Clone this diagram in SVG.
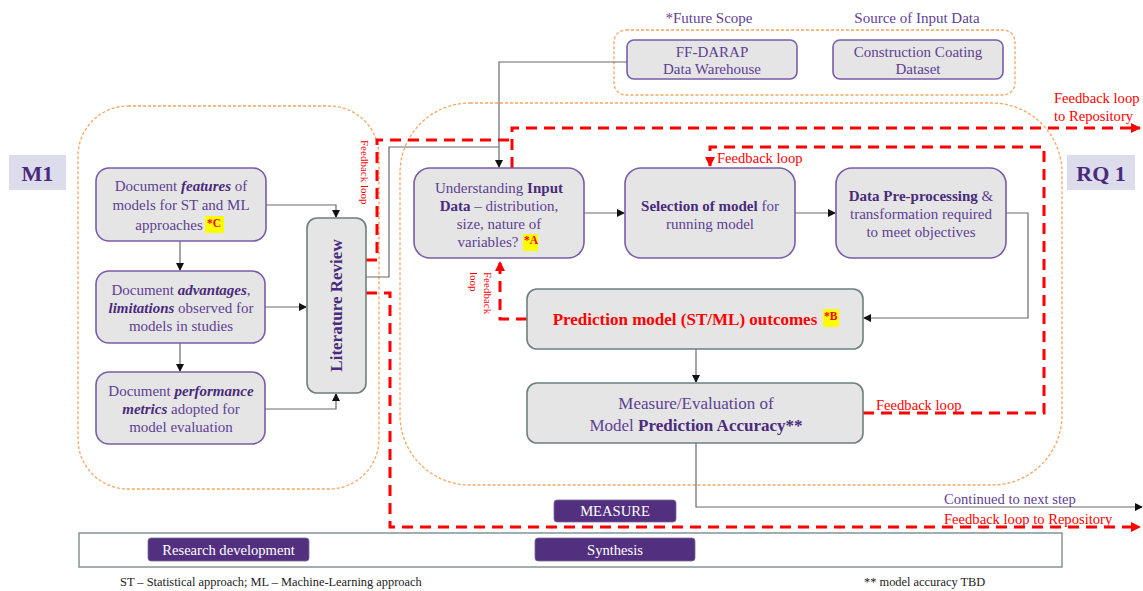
<svg xmlns="http://www.w3.org/2000/svg" width="1143" height="591" viewBox="0 0 1143 591">
  <style>
    text { font-family: "Liberation Serif", "Times New Roman", serif; }
    .zone { fill: none; stroke: #f5a561; stroke-width: 1.3; stroke-dasharray: 3 2; }
    .box { fill: #e5e5e5; stroke: #7a5ca8; stroke-width: 1.6; }
    .gbox { fill: #e5e5e5; stroke: #6e7f7f; stroke-width: 1.6; }
    .t { font-size: 15px; fill: #5f3f94; text-anchor: middle; }
    .b { font-weight: bold; fill: #4a2a7c; }
    .bi { font-weight: bold; font-style: italic; fill: #4a2a7c; }
    .tag { font-size: 11.5px; font-weight: bold; fill: #ff0000; }
    .hl { fill: #ffff00; }
    .lbl { fill: #dcdcec; }
    .lblt { font-size: 22px; font-weight: bold; fill: #4a2a7c; text-anchor: middle; }
    .pill { fill: #52307f; stroke: #7a6a9a; stroke-width: 0.8; }
    .pillt { font-size: 14.6px; fill: #ffffff; text-anchor: middle; }
    .wire { fill: none; stroke: #6a6a6a; stroke-width: 1.2; }
    .fb { fill: none; stroke: #ff0000; stroke-width: 3; stroke-dasharray: 11 7; }
    .fbt { font-size: 14.6px; fill: #ff0000; }
    .note { font-size: 12.4px; fill: #222222; }
  </style>
  <defs>
    <marker id="ah" markerWidth="8" markerHeight="8" refX="7" refY="4" orient="auto" markerUnits="userSpaceOnUse">
      <path d="M0,0 L8,4 L0,8 Z" fill="#111111"/>
    </marker>
    <marker id="rh" markerWidth="10" markerHeight="10" refX="9" refY="5" orient="auto" markerUnits="userSpaceOnUse">
      <path d="M0,0 L10,5 L0,10 Z" fill="#ff0000"/>
    </marker>
  </defs>

  <rect width="1143" height="591" fill="#ffffff"/>

  <!-- grouping zones -->
  <g id="zones">
    <rect class="zone" x="78" y="106" width="301" height="383" rx="50"/>
    <rect class="zone" x="400" y="103" width="662" height="382" rx="70"/>
    <rect class="zone" x="614" y="30" width="401" height="65" rx="12"/>
    <text x="709" y="23" class="t">*Future Scope</text>
    <text x="917" y="23" class="t">Source of Input Data</text>
  </g>

  <!-- section labels -->
  <g id="label-m1">
    <rect class="lbl" x="9" y="155" width="57" height="35"/>
    <text x="37.5" y="181" class="lblt">M1</text>
  </g>
  <g id="label-rq1">
    <rect class="lbl" x="1067" y="155" width="68" height="35"/>
    <text x="1101" y="181" class="lblt">RQ 1</text>
  </g>

  <!-- connectors -->
  <g id="connectors">
    <path class="wire" d="M266,205 H336 V217" marker-end="url(#ah)"/>
    <path class="wire" d="M180,241 V270" marker-end="url(#ah)"/>
    <path class="wire" d="M265,307 H306" marker-end="url(#ah)"/>
    <path class="wire" d="M180,343 V371" marker-end="url(#ah)"/>
    <path class="wire" d="M265,409 H336 V394" marker-end="url(#ah)"/>
    <path class="wire" d="M366,277 H389 V147 H499"/>
    <path class="wire" d="M627,62 H499 V167" marker-end="url(#ah)"/>
    <path class="wire" d="M584,213 H624" marker-end="url(#ah)"/>
    <path class="wire" d="M795,213 H835" marker-end="url(#ah)"/>
    <path class="wire" d="M1006,213 H1028 V318 H864" marker-end="url(#ah)"/>
    <path class="wire" d="M696,349 V382" marker-end="url(#ah)"/>
    <path class="wire" d="M696,443 V507 H1142" marker-end="url(#ah)"/>

    <!-- feedback loops -->
    <path class="fb" d="M366,260 H377 V140 H512"/>
    <path class="fb" d="M512,168 V128 H1140" marker-end="url(#rh)"/>
    <path class="fb" d="M863,413 H1044 V147 H710 V166" marker-end="url(#rh)"/>
    <path class="fb" d="M527,319 H500 V262" marker-end="url(#rh)"/>
    <path class="fb" d="M366,293 H390 V527 H1140" marker-end="url(#rh)"/>

    <text class="fbt" transform="translate(361,140) rotate(90)" style="font-size:11px">Feedback loop</text>
    <text class="fbt" transform="translate(484,272) rotate(90)" style="font-size:11px">Feedback</text>
    <text class="fbt" transform="translate(470,272) rotate(90)" style="font-size:11px">loop</text>
    <text class="fbt" x="717" y="163">Feedback loop</text>
    <text class="fbt" x="876" y="410">Feedback loop</text>
    <text class="fbt" x="1054" y="103">Feedback loop</text>
    <text class="fbt" x="1054" y="121">to Repository</text>
    <text x="944" y="504" style="font-size:14.6px;fill:#5f3f94">Continued to next step</text>
    <text class="fbt" x="944" y="524">Feedback loop to Repository</text>
  </g>

  <!-- M1 nodes -->
  <g id="doc-features">
    <rect class="box" x="96" y="168" width="170" height="73" rx="13"/>
    <text class="t" x="181" y="191">Document <tspan class="bi">features</tspan> of</text>
    <text class="t" x="181" y="210">models for ST and ML</text>
    <rect class="hl" x="205" y="216" width="19" height="17"/>
    <text class="t" x="169" y="230">approaches</text>
    <text class="tag" x="207" y="227">*C</text>
  </g>
  <g id="doc-advantages">
    <rect class="box" x="96" y="271" width="169" height="72" rx="13"/>
    <text class="t" x="181" y="295">Document <tspan class="bi">advantages</tspan>,</text>
    <text class="t" x="181" y="313"><tspan class="bi">limitations</tspan> observed for</text>
    <text class="t" x="181" y="331">models in studies</text>
  </g>
  <g id="doc-performance">
    <rect class="box" x="96" y="372" width="169" height="72" rx="13"/>
    <text class="t" x="181" y="396">Document <tspan class="bi">performance</tspan></text>
    <text class="t" x="181" y="414"><tspan class="bi">metrics</tspan> adopted for</text>
    <text class="t" x="181" y="432">model evaluation</text>
  </g>
  <g id="literature-review">
    <rect class="gbox" x="307" y="218" width="59" height="175" rx="10"/>
    <text class="t b" transform="translate(342,305.5) rotate(-90)" style="font-size:17px">Literature Review</text>
  </g>

  <!-- data sources -->
  <g id="ff-darap">
    <rect class="box" x="627" y="40" width="170" height="39" rx="7"/>
    <text class="t" x="712" y="57">FF-DARAP</text>
    <text class="t" x="712" y="74">Data Warehouse</text>
  </g>
  <g id="coating-dataset">
    <rect class="box" x="833" y="40" width="170" height="39" rx="7"/>
    <text class="t" x="918" y="57">Construction Coating</text>
    <text class="t" x="918" y="74">Dataset</text>
  </g>

  <!-- RQ1 nodes -->
  <g id="input-data">
    <rect class="box" x="414" y="168" width="170" height="90" rx="16"/>
    <text class="t" x="499" y="193">Understanding <tspan class="b">Input</tspan></text>
    <text class="t" x="499" y="211"><tspan class="b">Data</tspan> – distribution,</text>
    <text class="t" x="499" y="229">size, nature of</text>
    <rect class="hl" x="523" y="234" width="15" height="17"/>
    <text class="t" x="488" y="247">variables?</text>
    <text class="tag" x="524" y="244">*A</text>
  </g>
  <g id="model-selection">
    <rect class="box" x="625" y="168" width="170" height="90" rx="16"/>
    <text class="t" x="710" y="211"><tspan class="b">Selection of model</tspan> for</text>
    <text class="t" x="710" y="229">running model</text>
  </g>
  <g id="pre-processing">
    <rect class="box" x="836" y="168" width="170" height="90" rx="16"/>
    <text class="t" x="921" y="201"><tspan class="b">Data Pre-processing</tspan> &amp;</text>
    <text class="t" x="921" y="219">transformation required</text>
    <text class="t" x="921" y="237">to meet objectives</text>
  </g>
  <g id="prediction-outcomes">
    <rect class="gbox" x="527" y="289" width="336" height="60" rx="10"/>
    <rect class="hl" x="823" y="309" width="16" height="18"/>
    <text x="685" y="325" style="font-size:17px;font-weight:bold;fill:#ff0000;text-anchor:middle">Prediction model (ST/ML) outcomes</text>
    <text class="tag" x="824" y="320">*B</text>
  </g>
  <g id="accuracy">
    <rect class="gbox" x="527" y="383" width="336" height="60" rx="10"/>
    <text class="t" x="696" y="409" style="font-size:17px">Measure/Evaluation of</text>
    <text class="t" x="696" y="431" style="font-size:17px">Model <tspan class="b">Prediction Accuracy**</tspan></text>
  </g>

  <!-- stage bar -->
  <g id="measure">
    <rect class="pill" x="554" y="500" width="122" height="22" rx="3"/>
    <text class="pillt" x="615" y="516">MEASURE</text>
  </g>
  <g id="stages">
    <rect x="79" y="533" width="983" height="34" fill="#ffffff" stroke="#7f8c8c" stroke-width="1.4"/>
  </g>
  <g id="research-development">
    <rect class="pill" x="148" y="538" width="161" height="23" rx="3"/>
    <text class="pillt" x="228.5" y="555">Research development</text>
  </g>
  <g id="synthesis">
    <rect class="pill" x="535" y="538" width="160" height="23" rx="3"/>
    <text class="pillt" x="615" y="555">Synthesis</text>
  </g>

  <!-- footnotes -->
  <g id="notes">
    <text class="note" x="120" y="586">ST – Statistical approach; ML – Machine-Learning approach</text>
    <text class="note" x="864" y="586">** model accuracy TBD</text>
  </g>
</svg>
